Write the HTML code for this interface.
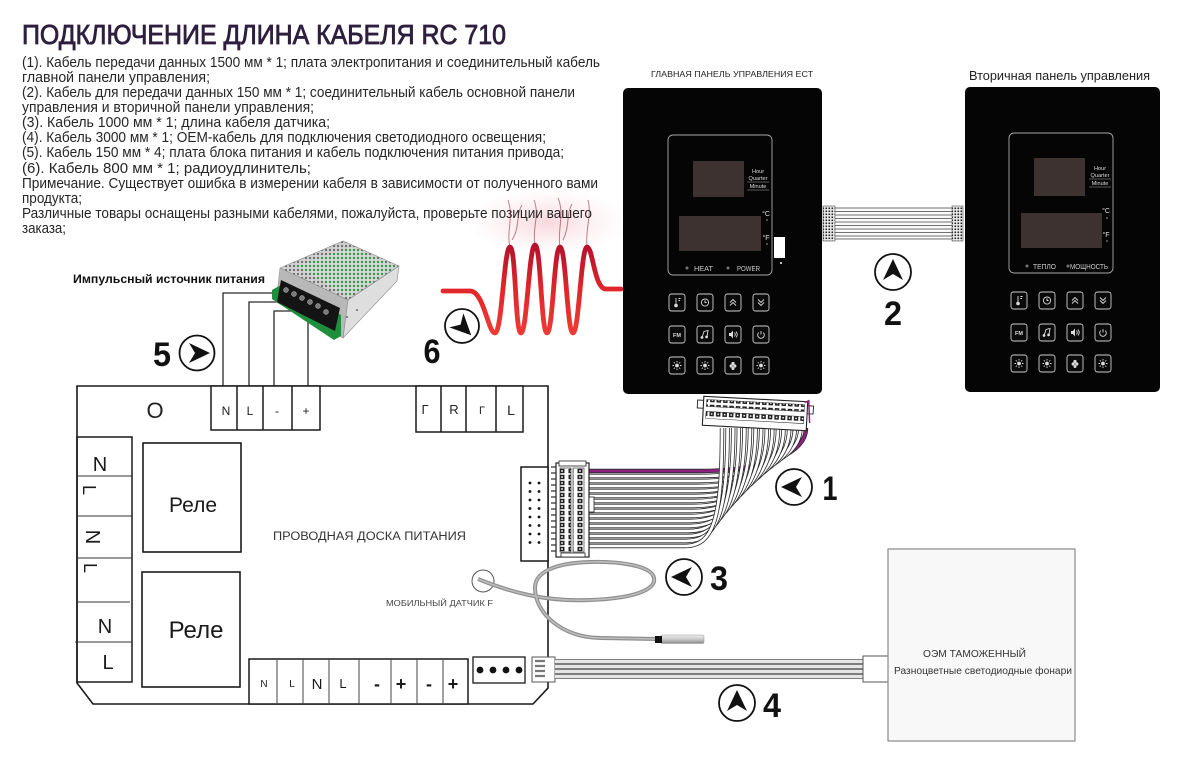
<!DOCTYPE html>
<html><head><meta charset="utf-8">
<style>
html,body{margin:0;padding:0;background:#fff;}
svg{display:block;}
.wo{fill:none;stroke:#2a2a2a;stroke-width:4.4;}
.wi{fill:none;stroke:#fff;stroke-width:2.8;}
.wp{fill:none;stroke:#8c1f80;stroke-width:2.8;}
.bl{stroke:#1a1a1a;stroke-width:1.5;fill:none;}
.btn{fill:#0a0a0a;stroke:#cfcfcf;stroke-width:0.9;}
.ic{fill:none;stroke:#dcdcdc;stroke-width:0.9;}
</style></head>
<body>
<svg width="1200" height="771" viewBox="0 0 1200 771" xmlns="http://www.w3.org/2000/svg" font-family="'Liberation Sans','DejaVu Sans',sans-serif">
<defs>
  <radialGradient id="glow" cx="0.5" cy="0.5" r="0.5">
    <stop offset="0" stop-color="#f1b7c0" stop-opacity="0.55"/>
    <stop offset="1" stop-color="#f7d6dc" stop-opacity="0"/>
  </radialGradient>
  <linearGradient id="coil" x1="0" y1="0" x2="0" y2="1">
    <stop offset="0" stop-color="#b3122c"/>
    <stop offset="0.5" stop-color="#e0262a"/>
    <stop offset="1" stop-color="#ee3a34"/>
  </linearGradient>
  <linearGradient id="probe" x1="0" y1="0" x2="0" y2="1">
    <stop offset="0" stop-color="#eeeeee"/>
    <stop offset="0.5" stop-color="#c9c9c9"/>
    <stop offset="1" stop-color="#8a8a8a"/>
  </linearGradient>
  <pattern id="gh" width="4" height="4" patternUnits="userSpaceOnUse">
    <rect width="4" height="4" fill="#d8d8d8"/>
    <circle cx="2" cy="2" r="1.2" fill="#2f9a46"/>
  </pattern>
  <pattern id="sh" width="4" height="4" patternUnits="userSpaceOnUse">
    <rect width="4" height="4" fill="#d0d0d0"/>
    <circle cx="2" cy="2" r="1.1" fill="#666"/>
  </pattern>
  <pattern id="pins" width="3" height="3" patternUnits="userSpaceOnUse">
    <rect width="3" height="3" fill="#eee"/>
    <rect x="0.5" y="0.5" width="1.6" height="1.6" fill="#222"/>
  </pattern>
  <pattern id="pinrow" width="6.5" height="7" patternUnits="userSpaceOnUse">
    <rect width="6.5" height="7" fill="#fff"/>
    <rect x="1" y="1" width="4.5" height="4.5" fill="#222"/>
    <rect x="2.5" y="2.5" width="1.5" height="1.5" fill="#fff"/>
  </pattern>
  <pattern id="pincol" width="9" height="6" patternUnits="userSpaceOnUse">
    <rect width="9" height="6" fill="#fff"/>
    <rect x="1.5" y="0.8" width="5" height="4.4" fill="#222"/>
    <rect x="3.2" y="2.2" width="1.6" height="1.6" fill="#fff"/>
  </pattern>
  <g id="arw"><path d="M13,0 L-8,-10 L-2,0 L-8,10 Z" fill="#111"/></g>
  <g id="i-th"><line x1="-1" y1="-4.5" x2="-1" y2="2" class="ic" stroke-width="1.6"/><circle cx="-1" cy="3" r="1.8" fill="#dcdcdc"/><path d="M1.5,-4 h2 M1.5,-2 h1.5" class="ic"/></g>
  <g id="i-cl"><circle r="3.6" class="ic"/><path d="M0,-2.2 V0 H1.6" class="ic"/></g>
  <g id="i-up"><path d="M-3,0 L0,-3 L3,0 M-3,3 L0,0 L3,3" class="ic"/></g>
  <g id="i-dn"><path d="M-3,-3 L0,0 L3,-3 M-3,0 L0,3 L3,0" class="ic"/></g>
  <g id="i-mu"><path d="M-3,3 L-1,-3 L3,-4 L2,2" class="ic" stroke-width="1.1"/><circle cx="-3" cy="3" r="1.4" fill="#dcdcdc"/><circle cx="1.6" cy="2.4" r="1.4" fill="#dcdcdc"/></g>
  <g id="i-sp"><path d="M-4,-1.5 h1.8 l2.2,-2.5 v8 l-2.2,-2.5 h-1.8 z" fill="#dcdcdc"/><path d="M1.5,-2 q1.5,2 0,4 M3,-3 q2.5,3 0,6" class="ic"/></g>
  <g id="i-pw"><path d="M-2.3,-2.4 A3.3,3.3 0 1 0 2.3,-2.4" class="ic"/><path d="M0,-4 V-0.5" class="ic"/></g>
  <g id="i-bu"><circle r="1.9" fill="#dcdcdc"/><path d="M0,-4.5 V-3 M0,3 V4.5 M-4.5,0 H-3 M3,0 H4.5 M-3.2,-3.2 L-2.2,-2.2 M3.2,-3.2 L2.2,-2.2 M-3.2,3.2 L-2.2,2.2 M3.2,3.2 L2.2,2.2" class="ic" stroke-width="0.8"/></g>
  <g id="i-fl"><circle cx="0" cy="-2" r="1.6" fill="#dcdcdc"/><circle cx="-1.8" cy="0.5" r="1.6" fill="#dcdcdc"/><circle cx="1.8" cy="0.5" r="1.6" fill="#dcdcdc"/><circle cx="0" cy="3" r="1.5" fill="#dcdcdc"/></g>
</defs>

<rect width="1200" height="771" fill="#fff"/>

<!-- glow behind coil -->
<ellipse cx="548" cy="222" rx="80" ry="34" fill="url(#glow)"/>

<!-- Title -->
<text x="22" y="44" font-size="28" fill="#2e1f3f" stroke="#2e1f3f" stroke-width="0.85" textLength="484" lengthAdjust="spacingAndGlyphs">ПОДКЛЮЧЕНИЕ ДЛИНА КАБЕЛЯ RC 710</text>

<!-- Paragraph -->
<g font-size="15" fill="#262626">
<text x="22" y="67" textLength="578" lengthAdjust="spacingAndGlyphs">(1). Кабель передачи данных 1500 мм * 1; плата электропитания и соединительный кабель</text>
<text x="22" y="82" textLength="188" lengthAdjust="spacingAndGlyphs">главной панели управления;</text>
<text x="22" y="97" textLength="553" lengthAdjust="spacingAndGlyphs">(2). Кабель для передачи данных 150 мм * 1; соединительный кабель основной панели</text>
<text x="22" y="112" textLength="292" lengthAdjust="spacingAndGlyphs">управления и вторичной панели управления;</text>
<text x="22" y="127" textLength="308" lengthAdjust="spacingAndGlyphs">(3). Кабель 1000 мм * 1; длина кабеля датчика;</text>
<text x="22" y="142" textLength="524" lengthAdjust="spacingAndGlyphs">(4). Кабель 3000 мм * 1; OEM-кабель для подключения светодиодного освещения;</text>
<text x="22" y="157" textLength="542" lengthAdjust="spacingAndGlyphs">(5). Кабель 150 мм * 4; плата блока питания и кабель подключения питания привода;</text>
<text x="22" y="173" textLength="289" lengthAdjust="spacingAndGlyphs">(6). Кабель 800 мм * 1; радиоудлинитель;</text>
<text x="22" y="188" textLength="576" lengthAdjust="spacingAndGlyphs">Примечание. Существует ошибка в измерении кабеля в зависимости от полученного вами</text>
<text x="22" y="203" textLength="60" lengthAdjust="spacingAndGlyphs">продукта;</text>
<text x="22" y="218" textLength="570" lengthAdjust="spacingAndGlyphs">Различные товары оснащены разными кабелями, пожалуйста, проверьте позиции вашего</text>
<text x="22" y="233" textLength="44" lengthAdjust="spacingAndGlyphs">заказа;</text>
</g>

<!-- coil wisps -->
<g fill="none" stroke="#8a1e34" stroke-width="1" opacity="0.55">
<path d="M510,247 C506,232 514,218 508,200"/>
<path d="M512,240 C520,228 516,214 522,205"/>
<path d="M535,245 C532,228 540,215 534,200"/>
<path d="M560,247 C557,230 565,214 558,198"/>
<path d="M563,240 C570,226 566,214 572,204"/>
<path d="M587,247 C585,230 592,215 588,200"/>
</g>
<!-- Red coil -->
<path d="M443,291 H470 C484,291 488,333 495,333 C502,333 504,247 510,247 C516,247 515,333 521,333 C527,333 529,245 535,245 C541,245 541,333 547,333 C553,333 554,247 560,247 C566,247 567,333 573,333 C579,333 581,247 587,247 C593,247 594,289 606,289 H621" fill="none" stroke="url(#coil)" stroke-width="4.8" stroke-linecap="round"/>

<!-- PSU label -->
<text x="73" y="283" font-size="12" font-weight="bold" fill="#111" textLength="192" lengthAdjust="spacingAndGlyphs">Импульсный источник питания</text>

<!-- PSU wires -->
<g fill="none" stroke="#2a2a2a" stroke-width="1.3">
<path d="M223,386 V293 H282"/>
<path d="M249,386 V302 H280"/>
<path d="M274,386 V311 H292"/>
<path d="M308,386 V322"/>
</g>

<!-- PSU -->
<g>
<polygon points="280,268 343,241 399,266 348,300" fill="url(#sh)" stroke="#8a8a8a" stroke-width="0.6"/>
<polygon points="296,266 351,247 396,267 348,297" fill="url(#gh)"/>
<polygon points="348,300 399,266 397,281 343,338" fill="#dedede" stroke="#8a8a8a" stroke-width="0.6"/>
<circle cx="347" cy="317" r="0.9" fill="#444"/><circle cx="357" cy="310" r="0.9" fill="#444"/>
<polygon points="280,268 348,300 343,338 276,302" fill="#b8b8b8" stroke="#888" stroke-width="0.5"/>
<polygon points="272,290 281,285 341,315 341,336 334,340 272,299" fill="#1f8f3c"/>
<polygon points="281,280 340,308 335,331 277,302" fill="#141414"/>
<g fill="#7a7a7a" stroke="#cfcfcf" stroke-width="0.4">
<circle cx="286" cy="290" r="2.5"/><circle cx="294" cy="294" r="2.5"/><circle cx="302" cy="298" r="2.5"/><circle cx="310" cy="302" r="2.5"/><circle cx="318" cy="306" r="2.5"/><circle cx="326" cy="312" r="2.5"/>
</g>
</g>

<!-- Board outline -->
<path d="M77,386 H548 V688 L533,704 H93 L77,683 Z" fill="none" stroke="#1a1a1a" stroke-width="1.6"/>

<!-- N L - + block -->
<rect x="211" y="386" width="109" height="44" fill="#fff" stroke="#1a1a1a" stroke-width="1.5"/>
<path d="M237,386 V430 M263,386 V430 M292,386 V430" class="bl"/>
<g font-size="12" fill="#222" text-anchor="middle">
<text x="226" y="415">N</text><text x="250" y="415">L</text><text x="277" y="415">-</text><text x="306" y="415">+</text>
</g>
<text x="155" y="418" font-size="22" fill="#222" text-anchor="middle">O</text>

<!-- Г R Г L block -->
<rect x="416" y="386" width="107" height="46" fill="#fff" stroke="#1a1a1a" stroke-width="1.5"/>
<path d="M441,386 V432 M466,386 V432 M496,386 V432" class="bl"/>
<g fill="#222" text-anchor="middle">
<text x="425" y="414" font-size="13">Г</text><text x="454" y="414" font-size="13">R</text><text x="482" y="414" font-size="11">Г</text><text x="511" y="415" font-size="14">L</text>
</g>

<!-- Left terminal column -->
<rect x="77" y="437" width="55" height="245" fill="none" stroke="#1a1a1a" stroke-width="1.5"/>
<path d="M77,476 H132 M77,516 H132 M77,558 H132 M77,602 H130 M75,642 H132" fill="none" stroke="#333" stroke-width="1"/>
<g fill="#1a1a1a" font-size="20" text-anchor="middle">
<text x="100" y="471">N</text>
<text transform="translate(90,490) rotate(90)" y="7" font-size="18">L</text>
<text transform="translate(93,537) rotate(90)" y="7">N</text>
<text transform="translate(91,568) rotate(90)" y="7" font-size="18">L</text>
<text x="105" y="633">N</text>
<text x="108" y="669">L</text>
</g>

<!-- Relays -->
<rect x="143" y="443" width="98" height="109" fill="none" stroke="#1a1a1a" stroke-width="1.6"/>
<text x="193" y="512" font-size="21" fill="#1a1a1a" text-anchor="middle">Реле</text>
<rect x="142" y="572" width="98" height="115" fill="none" stroke="#1a1a1a" stroke-width="1.6"/>
<text x="196" y="638" font-size="24" fill="#1a1a1a" text-anchor="middle">Реле</text>

<text x="273" y="540" font-size="11.5" fill="#333" textLength="193" lengthAdjust="spacingAndGlyphs">ПРОВОДНАЯ ДОСКА ПИТАНИЯ</text>
<text x="386" y="606" font-size="8.5" fill="#444" textLength="107" lengthAdjust="spacingAndGlyphs">МОБИЛЬНЫЙ ДАТЧИК F</text>
<circle cx="483" cy="581" r="11" fill="none" stroke="#555" stroke-width="1"/>

<!-- Bottom terminal -->
<rect x="249" y="659" width="219" height="45" fill="#fff" stroke="#1a1a1a" stroke-width="1.5"/>
<path d="M277,659 V704 M303,659 V704 M329,659 V704 M359,659 V704 M391,659 V704 M417,659 V704 M443,659 V704" fill="none" stroke="#444" stroke-width="1"/>
<g fill="#1a1a1a" text-anchor="middle">
<text x="264" y="687" font-size="10">N</text><text x="292" y="687" font-size="10">L</text>
<text x="317" y="689" font-size="15">N</text><text x="343" y="688" font-size="13">L</text>
<text x="377" y="690" font-size="18" font-weight="bold">-</text><text x="401" y="690" font-size="18" font-weight="bold">+</text>
<text x="429" y="690" font-size="18" font-weight="bold">-</text><text x="453" y="690" font-size="18" font-weight="bold">+</text>
</g>
<rect x="473" y="657" width="52" height="26" fill="#fff" stroke="#1a1a1a" stroke-width="1.3"/>
<g fill="#111"><circle cx="480" cy="670" r="3.4"/><circle cx="493" cy="670" r="3.4"/><circle cx="506" cy="670" r="3.4"/><circle cx="519" cy="670" r="3.4"/></g>

<!-- header on board -->
<rect x="521" y="467" width="27" height="94" fill="#fff" stroke="#1a1a1a" stroke-width="1.5"/>
<g fill="#111">
<circle cx="530" cy="483" r="1.4"/><circle cx="539" cy="483" r="1.4"/>
<circle cx="530" cy="491.5" r="1.4"/><circle cx="539" cy="491.5" r="1.4"/>
<circle cx="530" cy="500" r="1.4"/><circle cx="539" cy="500" r="1.4"/>
<circle cx="530" cy="508.5" r="1.4"/><circle cx="539" cy="508.5" r="1.4"/>
<circle cx="530" cy="517" r="1.4"/><circle cx="539" cy="517" r="1.4"/>
<circle cx="530" cy="525.5" r="1.4"/><circle cx="539" cy="525.5" r="1.4"/>
<circle cx="530" cy="534" r="1.4"/><circle cx="539" cy="534" r="1.4"/>
<circle cx="530" cy="542.5" r="1.4"/><circle cx="539" cy="542.5" r="1.4"/>
</g>

<!-- Cable 1 ribbon -->
<g>
<path class="wo" d="M589,471 H700 C760,471 806,455 806,428"/><path class="wp" d="M589,471 H700 C760,471 806,455 806,428"/>
<path class="wo" d="M589,476 H699 C757,476 800.4,459 800.4,428"/><path class="wi" d="M589,476 H699 C757,476 800.4,459 800.4,428"/>
<path class="wo" d="M589,481 H698 C754,481 794.8,463 794.8,428"/><path class="wi" d="M589,481 H698 C754,481 794.8,463 794.8,428"/>
<path class="wo" d="M589,486 H697 C751,486 789.2,467 789.2,428"/><path class="wi" d="M589,486 H697 C751,486 789.2,467 789.2,428"/>
<path class="wo" d="M589,491 H696 C748,491 783.6,471 783.6,428"/><path class="wi" d="M589,491 H696 C748,491 783.6,471 783.6,428"/>
<path class="wo" d="M589,496 H695 C745,496 778,475 778,428"/><path class="wi" d="M589,496 H695 C745,496 778,475 778,428"/>
<path class="wo" d="M589,501 H694 C742,501 772.4,479 772.4,428"/><path class="wi" d="M589,501 H694 C742,501 772.4,479 772.4,428"/>
<path class="wo" d="M589,506 H693 C739,506 766.8,483 766.8,428"/><path class="wi" d="M589,506 H693 C739,506 766.8,483 766.8,428"/>
<path class="wo" d="M589,511 H692 C736,511 761.2,487 761.2,428"/><path class="wi" d="M589,511 H692 C736,511 761.2,487 761.2,428"/>
<path class="wo" d="M589,516 H691 C733,516 755.6,491 755.6,428"/><path class="wi" d="M589,516 H691 C733,516 755.6,491 755.6,428"/>
<path class="wo" d="M589,521 H690 C730,521 750,495 750,428"/><path class="wi" d="M589,521 H690 C730,521 750,495 750,428"/>
<path class="wo" d="M589,526 H689 C727,526 744.4,499 744.4,428"/><path class="wi" d="M589,526 H689 C727,526 744.4,499 744.4,428"/>
<path class="wo" d="M589,531 H688 C724,531 738.8,503 738.8,428"/><path class="wi" d="M589,531 H688 C724,531 738.8,503 738.8,428"/>
<path class="wo" d="M589,536 H687 C721,536 733.2,507 733.2,428"/><path class="wi" d="M589,536 H687 C721,536 733.2,507 733.2,428"/>
<path class="wo" d="M589,541 H686 C718,541 727.6,511 727.6,428"/><path class="wi" d="M589,541 H686 C718,541 727.6,511 727.6,428"/>
<path class="wo" d="M589,546 H685 C715,546 722,515 722,428"/><path class="wi" d="M589,546 H685 C715,546 722,515 722,428"/>
</g>
<!-- cable 1 connectors -->
<g>
<path d="M551,467 H556 M551,473 H556 M551,479 H556 M551,485 H556 M551,491 H556 M551,497 H556 M551,503 H556 M551,509 H556 M551,515 H556 M551,521 H556 M551,527 H556 M551,533 H556 M551,539 H556 M551,545 H556 M551,551 H556" stroke="#333" stroke-width="1.2"/>
<rect x="556" y="463" width="33" height="94" fill="#fff" stroke="#222" stroke-width="1.2"/>
<rect x="559" y="461" width="27" height="5" fill="#fff" stroke="#222" stroke-width="0.8"/>
<rect x="560" y="468" width="11" height="84" fill="url(#pincol)" stroke="#222" stroke-width="0.6"/>
<rect x="573" y="468" width="11" height="84" fill="url(#pincol)" stroke="#222" stroke-width="0.6"/>
<rect x="589" y="497" width="5" height="15" fill="#fff" stroke="#222" stroke-width="0.8"/>
<rect x="561" y="553" width="24" height="4" fill="#fff" stroke="#222" stroke-width="0.8"/>
</g>
<g transform="rotate(3 755 414)">
<rect x="697" y="403" width="116" height="8" fill="#fff" stroke="#222" stroke-width="0.9"/>
<rect x="703" y="399" width="104" height="29" fill="#fff" stroke="#222" stroke-width="1.1"/>
<rect x="706" y="402" width="98" height="7" fill="url(#pinrow)" stroke="#222" stroke-width="0.5"/>
<rect x="706" y="414" width="98" height="7" fill="url(#pinrow)" stroke="#222" stroke-width="0.5"/>
<path d="M804,400 L808,398 L810,420" fill="none" stroke="#8c1f80" stroke-width="1.5"/>
</g>

<!-- Sensor cable 3 -->
<path d="M478,579 C510,592 545,602 590,600 C640,598 656,588 654,578 C652,566 620,561 590,562 C555,563 535,572 535,588 C535,612 560,637 600,638 L657,639" fill="none" stroke="#8f8f8f" stroke-width="4"/>
<path d="M478,579 C510,592 545,602 590,600 C640,598 656,588 654,578 C652,566 620,561 590,562 C555,563 535,572 535,588 C535,612 560,637 600,638 L657,639" fill="none" stroke="#bdbdbd" stroke-width="1.6"/>
<rect x="661" y="635" width="43" height="8.5" rx="1" fill="url(#probe)" stroke="#999" stroke-width="0.5"/>
<rect x="655" y="636" width="7" height="7" fill="#111"/>

<!-- Cable 4 -->
<g>
<rect x="532" y="657" width="23" height="25" fill="#fff" stroke="#555" stroke-width="1"/>
<path d="M535,661 H545 M535,666 H545 M535,671 H545 M535,676 H545" stroke="#777" stroke-width="2.2" fill="none"/>
<path d="M555,661.5 H863 M555,666.5 H863 M555,671.5 H863 M555,676.5 H863" stroke="#6f6f6f" stroke-width="5" fill="none"/>
<path d="M555,661.5 H863 M555,666.5 H863 M555,671.5 H863 M555,676.5 H863" stroke="#e6e6e6" stroke-width="3.2" fill="none"/>
<rect x="863" y="656" width="25" height="26" fill="#fff" stroke="#555" stroke-width="1"/>
</g>

<!-- OEM box -->
<rect x="888" y="549" width="187" height="192" fill="#f8f8f8" stroke="#8a8a8a" stroke-width="1.2"/>
<text x="923" y="657" font-size="10.5" fill="#333" textLength="103" lengthAdjust="spacingAndGlyphs">ОЭМ ТАМОЖЕННЫЙ</text>
<text x="894" y="674" font-size="10.5" fill="#333" textLength="178" lengthAdjust="spacingAndGlyphs">Разноцветные светодиодные фонари</text>

<!-- Cable 2 -->
<g>
<rect x="835" y="208" width="117" height="31" fill="#fafafa"/>
<path d="M835,208 H952 M835,211.5 H952 M835,215 H952 M835,218.5 H952 M835,222 H952 M835,225.5 H952 M835,229 H952 M835,232.5 H952 M835,236 H952 M835,239 H952" stroke="#707070" stroke-width="1" fill="none"/>
<rect x="823" y="206" width="12" height="35" fill="url(#pins)" stroke="#555" stroke-width="0.6"/>
<rect x="952" y="206" width="11" height="35" fill="url(#pins)" stroke="#555" stroke-width="0.6"/>
</g>

<!-- Main panel -->
<text x="651" y="77" font-size="8.6" fill="#222" textLength="162" lengthAdjust="spacingAndGlyphs">ГЛАВНАЯ ПАНЕЛЬ УПРАВЛЕНИЯ ЕСТ</text>
<rect x="623" y="88" width="199" height="306" rx="5" fill="#050505"/>
<rect x="668" y="135" width="104" height="140" rx="5" fill="none" stroke="#a8a8a8" stroke-width="0.9"/>
<rect x="693" y="161" width="51" height="36" fill="#3e3230"/>
<g font-size="5.6" fill="#dcdcdc" text-anchor="middle">
<text x="758" y="173">Hour</text><text x="758" y="180">Quarter</text><text x="758" y="188">Minute</text>
</g>
<path d="M747,182 H769 M747,190 H769" stroke="#aaa" stroke-width="0.5"/>
<rect x="679" y="216" width="82" height="35" fill="#3e3230"/>
<g font-size="7" fill="#e0e0e0" text-anchor="middle"><text x="766" y="216">°C</text><text x="766" y="240">°F</text></g>
<circle cx="767" cy="220" r="1" fill="#666"/><circle cx="767" cy="244" r="1" fill="#666"/>
<circle cx="687" cy="268" r="1.5" fill="#777"/><circle cx="728" cy="268" r="1.5" fill="#777"/>
<text x="694" y="271" font-size="7" fill="#ccc" textLength="19" lengthAdjust="spacingAndGlyphs">HEAT</text>
<text x="737" y="271" font-size="7" fill="#ccc" textLength="23" lengthAdjust="spacingAndGlyphs">POWER</text>
<rect x="774" y="237" width="11" height="21" fill="#fff"/>
<circle cx="781" cy="263" r="1" fill="#fff"/>
<g>
<rect class="btn" x="669" y="294" width="16" height="17" rx="2.5"/><rect class="btn" x="697" y="294" width="16" height="17" rx="2.5"/><rect class="btn" x="725" y="294" width="16" height="17" rx="2.5"/><rect class="btn" x="753" y="294" width="16" height="17" rx="2.5"/>
<rect class="btn" x="669" y="326" width="16" height="17" rx="2.5"/><rect class="btn" x="697" y="326" width="16" height="17" rx="2.5"/><rect class="btn" x="725" y="326" width="16" height="17" rx="2.5"/><rect class="btn" x="753" y="326" width="16" height="17" rx="2.5"/>
<rect class="btn" x="669" y="357" width="16" height="17" rx="2.5"/><rect class="btn" x="697" y="357" width="16" height="17" rx="2.5"/><rect class="btn" x="725" y="357" width="16" height="17" rx="2.5"/><rect class="btn" x="753" y="357" width="16" height="17" rx="2.5"/>
<use href="#i-th" x="677" y="302.5"/><use href="#i-cl" x="705" y="302.5"/><use href="#i-up" x="733" y="302.5"/><use href="#i-dn" x="761" y="302.5"/>
<text x="677" y="337" font-size="5.5" font-weight="bold" fill="#ddd" text-anchor="middle">FM</text><use href="#i-mu" x="705" y="334.5"/><use href="#i-sp" x="733" y="334.5"/><use href="#i-pw" x="761" y="335"/>
<use href="#i-bu" x="677" y="365.5"/><use href="#i-bu" x="705" y="365.5"/><use href="#i-fl" x="733" y="365.5"/><use href="#i-bu" x="761" y="365.5"/>
</g>

<!-- Secondary panel -->
<text x="969" y="80" font-size="12.5" fill="#222" textLength="181" lengthAdjust="spacingAndGlyphs">Вторичная панель управления</text>
<rect x="965" y="87" width="195" height="305" rx="5" fill="#050505"/>
<rect x="1009" y="133" width="104" height="140" rx="5" fill="none" stroke="#a8a8a8" stroke-width="0.9"/>
<rect x="1034" y="158" width="51" height="38" fill="#3e3230"/>
<g font-size="5.6" fill="#dcdcdc" text-anchor="middle">
<text x="1100" y="170">Hour</text><text x="1100" y="177">Quarter</text><text x="1100" y="185">Minute</text>
</g>
<path d="M1089,179 H1111 M1089,187 H1111" stroke="#aaa" stroke-width="0.5"/>
<rect x="1021" y="213" width="81" height="35" fill="#3e3230"/>
<g font-size="7" fill="#e0e0e0" text-anchor="middle"><text x="1106" y="213">°C</text><text x="1106" y="237">°F</text></g>
<circle cx="1107" cy="218" r="1" fill="#666"/><circle cx="1107" cy="241" r="1" fill="#666"/>
<circle cx="1027" cy="266" r="1.5" fill="#777"/><circle cx="1068" cy="266" r="1.5" fill="#777"/>
<text x="1033" y="269" font-size="7" fill="#ccc" textLength="23" lengthAdjust="spacingAndGlyphs">ТЕПЛО</text>
<text x="1070" y="269" font-size="7" fill="#ccc" textLength="38" lengthAdjust="spacingAndGlyphs">МОЩНОСТЬ</text>
<g>
<rect class="btn" x="1011" y="292" width="16" height="17" rx="2.5"/><rect class="btn" x="1039" y="292" width="16" height="17" rx="2.5"/><rect class="btn" x="1067" y="292" width="16" height="17" rx="2.5"/><rect class="btn" x="1095" y="292" width="16" height="17" rx="2.5"/>
<rect class="btn" x="1011" y="324" width="16" height="17" rx="2.5"/><rect class="btn" x="1039" y="324" width="16" height="17" rx="2.5"/><rect class="btn" x="1067" y="324" width="16" height="17" rx="2.5"/><rect class="btn" x="1095" y="324" width="16" height="17" rx="2.5"/>
<rect class="btn" x="1011" y="355" width="16" height="17" rx="2.5"/><rect class="btn" x="1039" y="355" width="16" height="17" rx="2.5"/><rect class="btn" x="1067" y="355" width="16" height="17" rx="2.5"/><rect class="btn" x="1095" y="355" width="16" height="17" rx="2.5"/>
<use href="#i-th" x="1019" y="300.5"/><use href="#i-cl" x="1047" y="300.5"/><use href="#i-up" x="1075" y="300.5"/><use href="#i-dn" x="1103" y="300.5"/>
<text x="1019" y="335" font-size="5.5" font-weight="bold" fill="#ddd" text-anchor="middle">FM</text><use href="#i-mu" x="1047" y="332.5"/><use href="#i-sp" x="1075" y="332.5"/><use href="#i-pw" x="1103" y="333"/>
<use href="#i-bu" x="1019" y="363.5"/><use href="#i-bu" x="1047" y="363.5"/><use href="#i-fl" x="1075" y="363.5"/><use href="#i-bu" x="1103" y="363.5"/>
</g>

<!-- Arrow badges -->
<g transform="translate(197,353)"><circle r="17.5" fill="#fff" stroke="#111" stroke-width="1.8"/><use href="#arw"/></g>
<text x="162" y="366" font-size="34" font-weight="bold" fill="#111" text-anchor="middle" textLength="18" lengthAdjust="spacingAndGlyphs">5</text>

<g transform="translate(462,326)"><circle r="17" fill="#fff" stroke="#111" stroke-width="1.8"/><g transform="rotate(45)"><use href="#arw"/></g></g>
<text x="432" y="363" font-size="34" font-weight="bold" fill="#111" text-anchor="middle" textLength="17" lengthAdjust="spacingAndGlyphs">6</text>

<g transform="translate(794,487)"><circle r="18" fill="#fff" stroke="#111" stroke-width="1.8"/><g transform="rotate(180)"><use href="#arw"/></g></g>
<text x="830" y="500" font-size="34" font-weight="bold" fill="#111" text-anchor="middle" textLength="15" lengthAdjust="spacingAndGlyphs">1</text>

<g transform="translate(893,272)"><circle r="18" fill="#fff" stroke="#111" stroke-width="1.8"/><g transform="rotate(-90)"><use href="#arw"/></g></g>
<text x="893" y="325" font-size="34" font-weight="bold" fill="#111" text-anchor="middle" textLength="18" lengthAdjust="spacingAndGlyphs">2</text>

<g transform="translate(684,577)"><circle r="18" fill="#fff" stroke="#111" stroke-width="1.8"/><g transform="rotate(180)"><use href="#arw"/></g></g>
<text x="719" y="590" font-size="34" font-weight="bold" fill="#111" text-anchor="middle" textLength="18" lengthAdjust="spacingAndGlyphs">3</text>

<g transform="translate(737,703)"><circle r="18" fill="#fff" stroke="#111" stroke-width="1.8"/><g transform="rotate(-90)"><use href="#arw"/></g></g>
<text x="772" y="717" font-size="34" font-weight="bold" fill="#111" text-anchor="middle" textLength="18" lengthAdjust="spacingAndGlyphs">4</text>

</svg>
</body></html>
